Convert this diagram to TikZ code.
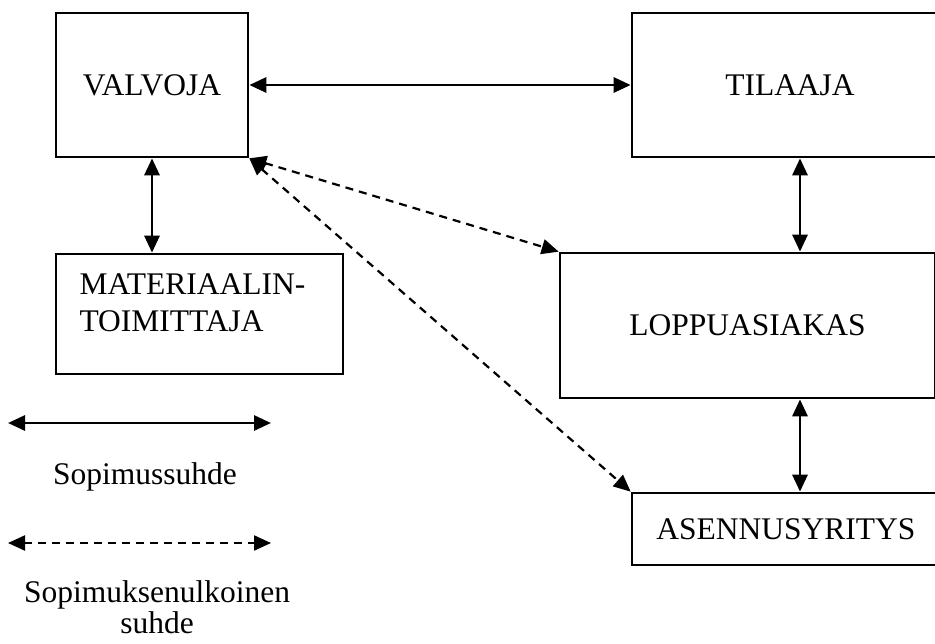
\documentclass[tikz,border=0pt]{standalone}
\usepackage{fontspec}
\setmainfont{Liberation Serif}
\usepackage{tikz}
\usetikzlibrary{arrows.meta}

\tikzset{
    box/.style = {draw, line width=2.7pt, rectangle, inner sep=0pt},
    sopimus/.style = {line width=2.9pt, {Triangle[length=17pt,width=15pt]}-{Triangle[length=17pt,width=15pt]}},
    ulkoinen/.style = {line width=2.2pt, dash pattern=on 8pt off 6pt,
        {Triangle[length=17pt,width=15pt]}-{Triangle[length=17pt,width=15pt]}}
}

\begin{document}
\begin{tikzpicture}[x=1pt, y=-1pt, font=\fontsize{31.5}{37}\selectfont]
        \useasboundingbox (0, 0) rectangle (935, 643);

        % osapuolet
        \node[box, minimum width=192, minimum height=144] (valvoja) at (152, 85) {VALVOJA};
        \node[box, minimum width=316, minimum height=144] (tilaaja) at (790, 85) {TILAAJA};
        \node[box, minimum width=287, minimum height=120] (materiaali) at (199.5, 314) {};
        \node[align=left, anchor=west] (materiaalitxt) at (76, 303) {MATERIAALIN-\\TOIMITTAJA};
        \node[box, minimum width=375, minimum height=145] (loppu) at (747.5, 325.5) {LOPPUASIAKAS};
        \node[box, minimum width=308, minimum height=72] (asennus) at (786, 529) {ASENNUSYRITYS};

        \coordinate (oikea) at (800, 0);

        % sopimussuhteet
        \draw[sopimus] (valvoja.east) -- (tilaaja.west);
        \draw[sopimus] (valvoja.south) -- (valvoja.south |- materiaali.north);
        \draw[sopimus] (tilaaja.south -| oikea) -- (loppu.north -| oikea);
        \draw[sopimus] (loppu.south -| oikea) -- (asennus.north -| oikea);

        % sopimuksenulkoiset suhteet
        \draw[ulkoinen] (valvoja.south east) -- (loppu.north west);
        \draw[ulkoinen] (valvoja.south east) -- (asennus.north west);

        % selitteet
        \coordinate (sa) at (8, 423);
        \coordinate (sb) at (271, 423);
        \draw[sopimus] (sa) -- (sb);
        \node (sopimusteksti) at (145, 477) {Sopimussuhde};

        \coordinate (ua) at (8, 543);
        \coordinate (ub) at (271, 543);
        \draw[ulkoinen] (ua) -- (ub);
        \node[align=center, font=\fontsize{31.5}{31}\selectfont] (ulkoinenteksti) at (157, 607)
            {Sopimuksenulkoinen\\suhde};
\end{tikzpicture}
\end{document}
